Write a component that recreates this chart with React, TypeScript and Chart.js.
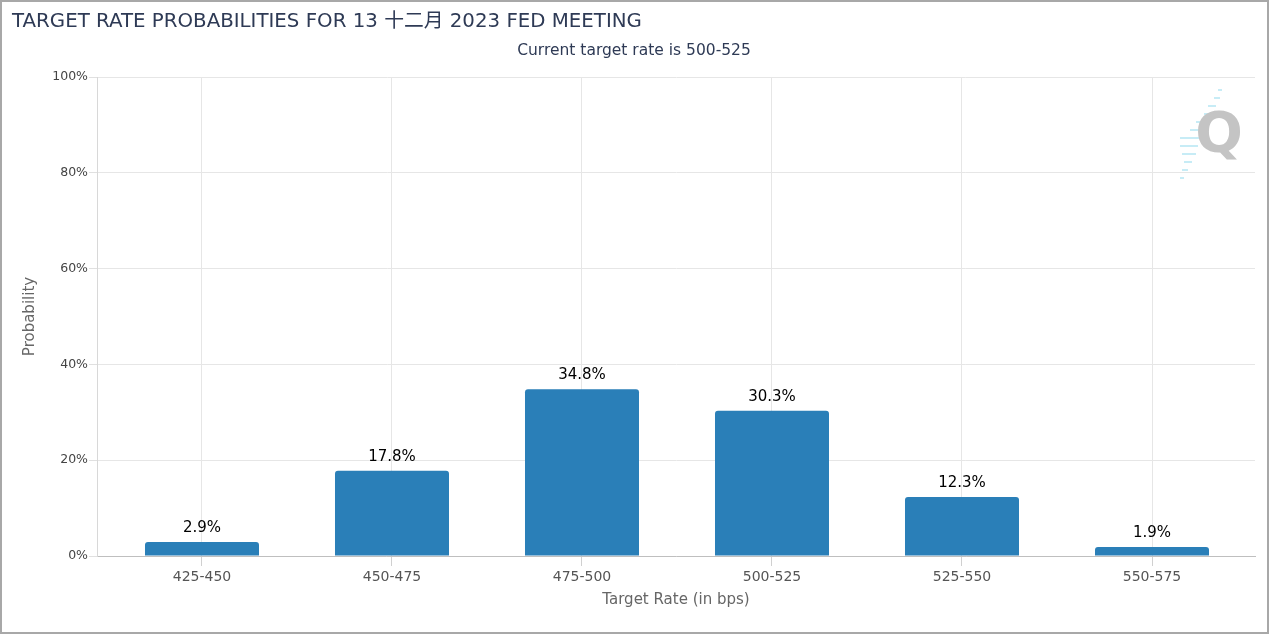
import React, { useEffect, useRef } from "react";
import { Chart, registerables } from "chart.js";

Chart.register(...registerables);

const TITLE = "TARGET RATE PROBABILITIES FOR 13 十二月 2023 FED MEETING";
const SUBTITLE = "Current target rate is 500-525";
const X_TITLE = "Target Rate (in bps)";
const Y_TITLE = "Probability";
const categories = ["425-450", "450-475", "475-500", "500-525", "525-550", "550-575"];
const probabilities = [2.9, 17.8, 34.8, 30.3, 12.3, 1.9];
const yTicks = [0, 20, 40, 60, 80, 100];

const FONT = "'DejaVu Sans', 'Noto Sans CJK SC', sans-serif";
const NAVY = "#2e3a55";

const decorPlugin = {
  id: "decor",
  beforeDraw(chart: any) {
    const { ctx, width, height } = chart;
    ctx.save();
    ctx.fillStyle = "#ffffff";
    ctx.fillRect(0, 0, width, height);
    ctx.restore();
  },
  beforeDatasetsDraw(chart: any) {
    const { ctx } = chart;
    // watermark logo
    ctx.save();
    ctx.strokeStyle = "rgba(120,210,235,0.55)";
    ctx.lineWidth = 1.5;
    const dashes = [
      [1218, 90, 1222, 90], [1214, 98, 1220, 98], [1208, 106, 1216, 106],
      [1204, 114, 1214, 114], [1196, 122, 1210, 122], [1190, 130, 1204, 130],
      [1180, 138, 1200, 138], [1180, 146, 1198, 146], [1182, 154, 1196, 154],
      [1184, 162, 1192, 162], [1182, 170, 1188, 170], [1180, 178, 1184, 178],
    ];
    dashes.forEach(([x1, y1, x2, y2]) => {
      ctx.beginPath();
      ctx.moveTo(x1, y1);
      ctx.lineTo(x2, y2);
      ctx.stroke();
    });
    ctx.fillStyle = "#c4c4c4";
    ctx.font = `bold 56px 'DejaVu Sans', sans-serif`;
    ctx.textAlign = "center";
    ctx.textBaseline = "alphabetic";
    ctx.fillText("Q", 1219, 151);
    ctx.restore();
  },
  afterDraw(chart: any) {
    const { ctx, width, height } = chart;
    ctx.save();
    ctx.fillStyle = NAVY;
    ctx.textBaseline = "alphabetic";
    ctx.textAlign = "left";
    ctx.font = `19.8px ${FONT}`;
    ctx.fillText(TITLE, 12, 27);
    ctx.textAlign = "center";
    ctx.font = `15.5px ${FONT}`;
    ctx.fillText(SUBTITLE, 634, 55);
    ctx.strokeStyle = "#a8a8a8";
    ctx.lineWidth = 2;
    ctx.strokeRect(1, 1, width - 2, height - 2);
    ctx.restore();
  },
};

const labelPlugin = {
  id: "barLabels",
  afterDatasetsDraw(chart: any) {
    const { ctx } = chart;
    const meta = chart.getDatasetMeta(0);
    ctx.save();
    ctx.fillStyle = "#000000";
    ctx.font = `15px ${FONT}`;
    ctx.textAlign = "center";
    ctx.textBaseline = "alphabetic";
    meta.data.forEach((el: any, i: number) => {
      ctx.fillText(probabilities[i].toFixed(1) + "%", el.x, el.y - 10);
    });
    ctx.restore();
  },
};

export default function App() {
  const ref = useRef<HTMLCanvasElement | null>(null);

  useEffect(() => {
    document.body.style.margin = "0";
    if (!ref.current) return;
    Chart.defaults.font.family = FONT;
    const chart = new Chart(ref.current, {
      type: "bar",
      data: {
        datasets: [
          {
            data: probabilities.map((v, i) => ({ x: i, y: v })),
            backgroundColor: "#2a7fb8",
            borderRadius: 3,
            borderSkipped: "bottom",
            categoryPercentage: 1,
            barPercentage: 0.6,
          } as any,
        ],
      },
      options: {
        animation: false,
        responsive: false,
        devicePixelRatio: 1,
        layout: { padding: { left: 10, right: 14, top: 77, bottom: 0 } },
        plugins: {
          legend: { display: false },
          tooltip: { enabled: false },
          title: { display: false },
        },
        scales: {
          x: {
            type: "linear",
            offset: false,
            min: -0.5526,
            max: 5.5421,
            afterBuildTicks: (s: any) => {
              s.ticks = categories.map((_, i) => ({ value: i }));
            },
            afterFit: (s: any) => {
              s.height = 78;
            },
            grid: {
              offset: false,
              color: "#e6e6e6",
              tickLength: 10,
              tickColor: "#d0d0d0",
            },
            border: { color: "#bfbfbf", width: 1 },
            ticks: {
              padding: 3,
              color: "#555555",
              font: { size: 14 },
              maxRotation: 0,
              autoSkip: false,
              callback: (v: any) => categories[Math.round(Number(v))] ?? "",
            },
            title: {
              display: true,
              text: X_TITLE,
              color: "#666666",
              font: { size: 15 },
              padding: { top: 0, bottom: 25 },
            },
          },
          y: {
            min: 0,
            max: 100,
            afterBuildTicks: (s: any) => {
              s.ticks = yTicks.map((v) => ({ value: v }));
            },
            afterFit: (s: any) => {
              s.width = 87;
            },
            grid: {
              color: "#e6e6e6",
              tickLength: 8,
              tickColor: "#e0e0e0",
            },
            border: { color: "#d8d8d8", width: 1 },
            ticks: {
              padding: 1,
              color: "#444444",
              font: { size: 12.5 },
              callback: (v: any) => v + "%",
            },
            title: {
              display: true,
              text: Y_TITLE,
              color: "#666666",
              font: { size: 15 },
              padding: { top: 11, bottom: 0 },
            },
          },
        },
      } as any,
      plugins: [decorPlugin, labelPlugin],
    });
    return () => chart.destroy();
  }, []);

  return (
    <div style={{ position: "absolute", left: 0, top: 0, width: 1269, height: 634 }}>
      <canvas ref={ref} width={1269} height={634} />
    </div>
  );
}
